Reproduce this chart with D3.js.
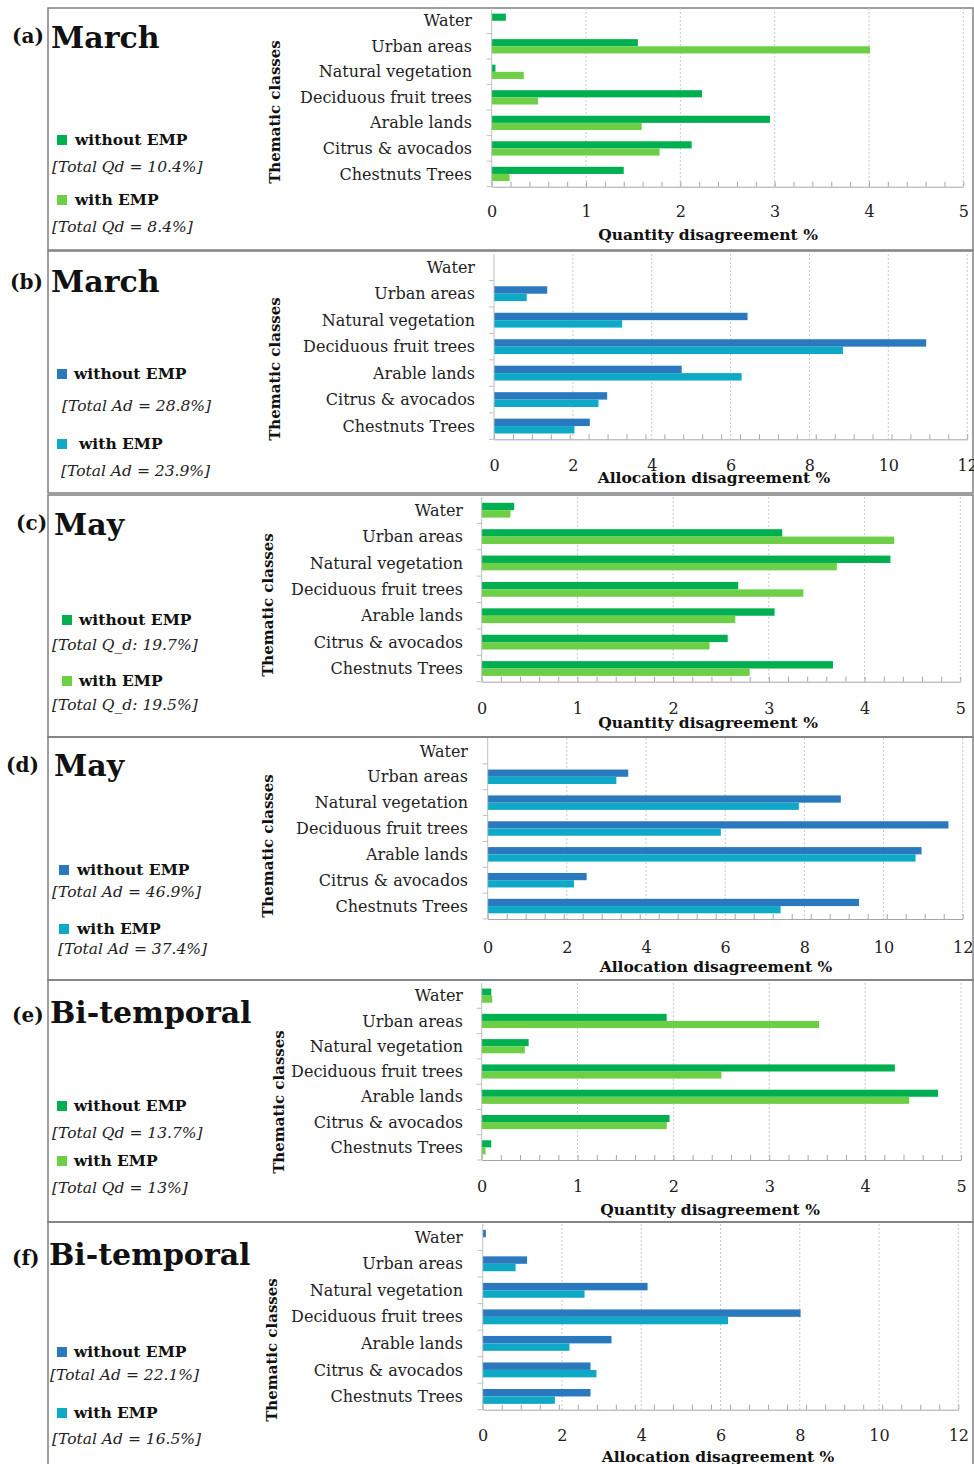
<!DOCTYPE html>
<html>
<head>
<meta charset="utf-8">
<script src="https://cdn.jsdelivr.net/npm/d3@7"></script>
<style>
  body { margin: 0; background: #fff; }
  svg { display: block; font-family: "DejaVu Serif", "Liberation Serif", serif; }
</style>
</head>
<body>
<div id="chart"></div>
<script>
// classes, top to bottom
var categories = ["Water", "Urban areas", "Natural vegetation", "Deciduous fruit trees",
                  "Arable lands", "Citrus & avocados", "Chestnuts Trees"];
var seriesNames = ["without EMP", "with EMP"];

// quantity / allocation disagreement (%) per class
var marchQdWithout = [0.15, 1.55, 0.04, 2.23, 2.95, 2.12, 1.40];
var marchQdWith    = [0.00, 4.01, 0.34, 0.49, 1.59, 1.78, 0.19];
var marchAdWithout = [0.00, 1.35, 6.43, 10.96, 4.76, 2.87, 2.43];
var marchAdWith    = [0.00, 0.83, 3.25, 8.85, 6.28, 2.65, 2.04];
var mayQdWithout   = [0.34, 3.14, 4.27, 2.68, 3.06, 2.57, 3.67];
var mayQdWith      = [0.30, 4.31, 3.71, 3.36, 2.65, 2.38, 2.80];
var mayAdWithout   = [0.00, 3.55, 8.92, 11.64, 10.96, 2.50, 9.38];
var mayAdWith      = [0.00, 3.25, 7.86, 5.89, 10.81, 2.18, 7.40];
var biQdWithout    = [0.10, 1.93, 0.49, 4.31, 4.76, 1.96, 0.10];
var biQdWith       = [0.11, 3.52, 0.45, 2.50, 4.46, 1.93, 0.04];
var biAdWithout    = [0.08, 1.12, 4.16, 8.02, 3.25, 2.72, 2.72];
var biAdWith       = [0.00, 0.83, 2.57, 6.19, 2.19, 2.87, 1.82];

var qdTicks = [0, 1, 2, 3, 4, 5];
var adTicks = [0, 2, 4, 6, 8, 10, 12];

var qdColors = ["#00b050", "#6ccf45"];
var adColors = ["#2a78bd", "#0fa9c8"];

// panel placement on the page
var panels = [
  {tag: "(a)", name: "March", vals: [marchQdWithout, marchQdWith], ticks: qdTicks, colors: qdColors,
   title: "Quantity disagreement %", totals: ["[Total Qd = 10.4%]", "[Total Qd = 8.4%]"],
   top: 8, bottom: 250, plotTop: 8, axisY: 186.7, x0: 491.7, x1: 963.3, catRight: 472,
   themX: 275, themY: 112, tickBase: 218, titleBase: 240, titleX: 708,
   tagX: 12, tagBase: 43, nameX: 51, nameBase: 48,
   leg: [{sx: 57, tx: 75, base: 145, totX: 52, totBase: 172}, {sx: 57, tx: 75, base: 205, totX: 52, totBase: 232}]},
  {tag: "(b)", name: "March", vals: [marchAdWithout, marchAdWith], ticks: adTicks, colors: adColors,
   title: "Allocation disagreement %", totals: ["[Total Ad = 28.8%]", "[Total Ad = 23.9%]"],
   top: 251, bottom: 493, plotTop: 254, axisY: 439.3, x0: 494, x1: 967.2, catRight: 475,
   themX: 275, themY: 369, tickBase: 472, titleBase: 483, titleX: 714,
   tagX: 10, tagBase: 289, nameX: 51, nameBase: 292,
   leg: [{sx: 57, tx: 74, base: 379, totX: 62, totBase: 411}, {sx: 57, tx: 79, base: 449, totX: 61, totBase: 476}]},
  {tag: "(c)", name: "May", vals: [mayQdWithout, mayQdWith], ticks: qdTicks, colors: qdColors,
   title: "Quantity disagreement %", totals: ["[Total Q_d: 19.7%]", "[Total Q_d: 19.5%]"],
   top: 495, bottom: 737, plotTop: 497, axisY: 681.7, x0: 481.7, x1: 960.3, catRight: 463,
   themX: 268, themY: 605, tickBase: 715, titleBase: 728, titleX: 708,
   tagX: 16, tagBase: 530, nameX: 54, nameBase: 535,
   leg: [{sx: 62, tx: 79, base: 625, totX: 52, totBase: 650}, {sx: 62, tx: 79, base: 686, totX: 52, totBase: 710}]},
  {tag: "(d)", name: "May", vals: [mayAdWithout, mayAdWith], ticks: adTicks, colors: adColors,
   title: "Allocation disagreement %", totals: ["[Total Ad = 46.9%]", "[Total Ad = 37.4%]"],
   top: 737, bottom: 980, plotTop: 738, axisY: 919, x0: 487.7, x1: 962.7, catRight: 468,
   themX: 268, themY: 846, tickBase: 954, titleBase: 972, titleX: 716,
   tagX: 6, tagBase: 772, nameX: 54, nameBase: 776,
   leg: [{sx: 59, tx: 77, base: 875, totX: 52, totBase: 897}, {sx: 59, tx: 77, base: 934, totX: 58, totBase: 954}]},
  {tag: "(e)", name: "Bi-temporal", vals: [biQdWithout, biQdWith], ticks: qdTicks, colors: qdColors,
   title: "Quantity disagreement %", totals: ["[Total Qd = 13.7%]", "[Total Qd = 13%]"],
   top: 980, bottom: 1222, plotTop: 983, axisY: 1160, x0: 481.7, x1: 961, catRight: 463,
   themX: 279, themY: 1102, tickBase: 1193, titleBase: 1215, titleX: 710,
   tagX: 12, tagBase: 1022, nameX: 50, nameBase: 1023,
   leg: [{sx: 57, tx: 74, base: 1111, totX: 52, totBase: 1138}, {sx: 57, tx: 74, base: 1166, totX: 52, totBase: 1193}]},
  {tag: "(f)", name: "Bi-temporal", vals: [biAdWithout, biAdWith], ticks: adTicks, colors: adColors,
   title: "Allocation disagreement %", totals: ["[Total Ad = 22.1%]", "[Total Ad = 16.5%]"],
   top: 1222, bottom: 1470, plotTop: 1224, axisY: 1409.7, x0: 482.7, x1: 958.3, catRight: 463,
   themX: 272, themY: 1350, tickBase: 1442, titleBase: 1462, titleX: 718,
   tagX: 12, tagBase: 1265, nameX: 49, nameBase: 1265,
   leg: [{sx: 57, tx: 74, base: 1357, totX: 50, totBase: 1380}, {sx: 57, tx: 74, base: 1418, totX: 52, totBase: 1444}]}
];

var svg = d3.select("#chart").append("svg")
  .attr("width", 974)
  .attr("height", 1464);

panels.forEach(drawPanel);

function drawPanel(p) {
  var g = svg.append("g");
  var max = p.ticks[p.ticks.length - 1];

  var x = d3.scaleLinear().domain([0, max]).range([p.x0, p.x1]);
  var y = d3.scaleBand().domain(categories).range([p.plotTop, p.axisY]);
  var bw = y.bandwidth();
  var ySub = d3.scaleBand().domain(seriesNames).range([bw * 0.22, bw * 0.78]);

  // frame
  g.append("rect")
    .attr("x", 48).attr("y", p.top)
    .attr("width", 925).attr("height", p.bottom - p.top)
    .attr("fill", "none").attr("stroke", "#7f7f7f").attr("stroke-width", 1.5);

  // dashed grid
  g.append("g").selectAll("line")
    .data(p.ticks.slice(1))
    .enter().append("line")
    .attr("x1", function(d) { return x(d); }).attr("x2", function(d) { return x(d); })
    .attr("y1", p.plotTop).attr("y2", p.axisY)
    .attr("stroke", "#c8c8c8").attr("stroke-dasharray", "2,2");

  // bars
  var rows = [];
  categories.forEach(function(c, i) {
    seriesNames.forEach(function(s, j) {
      rows.push({cat: c, series: s, value: p.vals[j][i], color: p.colors[j]});
    });
  });
  g.append("g").selectAll("rect")
    .data(rows.filter(function(d) { return d.value > 0; }))
    .enter().append("rect")
    .attr("x", x(0))
    .attr("y", function(d) { return y(d.cat) + ySub(d.series); })
    .attr("width", function(d) { return x(d.value) - x(0); })
    .attr("height", ySub.bandwidth())
    .attr("fill", function(d) { return d.color; });

  // y axis line with ticks at class boundaries
  var bounds = categories.map(function(c) { return y(c); }).concat([p.axisY]);
  g.append("line")
    .attr("x1", p.x0).attr("x2", p.x0).attr("y1", p.plotTop).attr("y2", p.axisY)
    .attr("stroke", "#bfbfbf");
  g.append("g").selectAll("line")
    .data(bounds.slice(1))
    .enter().append("line")
    .attr("x1", p.x0 - 5).attr("x2", p.x0)
    .attr("y1", function(d) { return d; }).attr("y2", function(d) { return d; })
    .attr("stroke", "#bfbfbf");

  // x axis: minor ticks pointing up
  var minor = d3.range(0, 26).map(function(i) { return i * max / 25; });
  var xAxis = g.append("g")
    .attr("transform", "translate(0," + p.axisY + ")")
    .call(d3.axisBottom(x).tickValues(minor).tickSizeInner(-5).tickSizeOuter(0).tickFormat(""));
  xAxis.select(".domain").attr("stroke", "#a6a6a6");
  xAxis.selectAll(".tick line").attr("stroke", "#a6a6a6");

  // tick labels
  var lab = g.append("g")
    .attr("transform", "translate(0," + (p.tickBase - 12) + ")")
    .call(d3.axisBottom(x).tickValues(p.ticks).tickSize(0).tickPadding(0).tickFormat(d3.format("d")));
  lab.select(".domain").remove();
  lab.selectAll("text")
    .attr("font-family", "DejaVu Serif").attr("font-size", 16).attr("fill", "#222");

  // class labels
  g.append("g").selectAll("text")
    .data(categories)
    .enter().append("text")
    .attr("x", p.catRight)
    .attr("y", function(d) { return y(d) + bw / 2; })
    .attr("dy", "0.35em")
    .attr("text-anchor", "end")
    .attr("font-size", 16).attr("fill", "#222")
    .text(function(d) { return d; });

  // axis titles
  g.append("text")
    .attr("transform", "translate(" + p.themX + "," + p.themY + ") rotate(-90)")
    .attr("dy", "0.35em")
    .attr("text-anchor", "middle")
    .attr("font-weight", "bold").attr("font-size", 15).attr("fill", "#111")
    .text("Thematic classes");

  g.append("text")
    .attr("x", p.titleX).attr("y", p.titleBase)
    .attr("text-anchor", "middle")
    .attr("font-weight", "bold").attr("font-size", 15.5).attr("fill", "#111")
    .text(p.title);

  // panel tag and name
  g.append("text")
    .attr("x", p.tagX).attr("y", p.tagBase)
    .attr("font-weight", "bold").attr("font-size", 20).attr("fill", "#111")
    .text(p.tag);
  g.append("text")
    .attr("x", p.nameX).attr("y", p.nameBase)
    .attr("font-weight", "bold").attr("font-size", 30).attr("fill", "#111")
    .text(p.name);

  // legend
  p.leg.forEach(function(l, j) {
    g.append("rect")
      .attr("x", l.sx).attr("y", l.base - 10)
      .attr("width", 10).attr("height", 10)
      .attr("fill", p.colors[j]);
    g.append("text")
      .attr("x", l.tx).attr("y", l.base)
      .attr("font-weight", "bold").attr("font-size", 15.5).attr("fill", "#111")
      .text(seriesNames[j]);
    g.append("text")
      .attr("x", l.totX).attr("y", l.totBase)
      .attr("font-style", "italic").attr("font-size", 15.5).attr("fill", "#222")
      .text(p.totals[j]);
  });
}
</script>
</body>
</html>
